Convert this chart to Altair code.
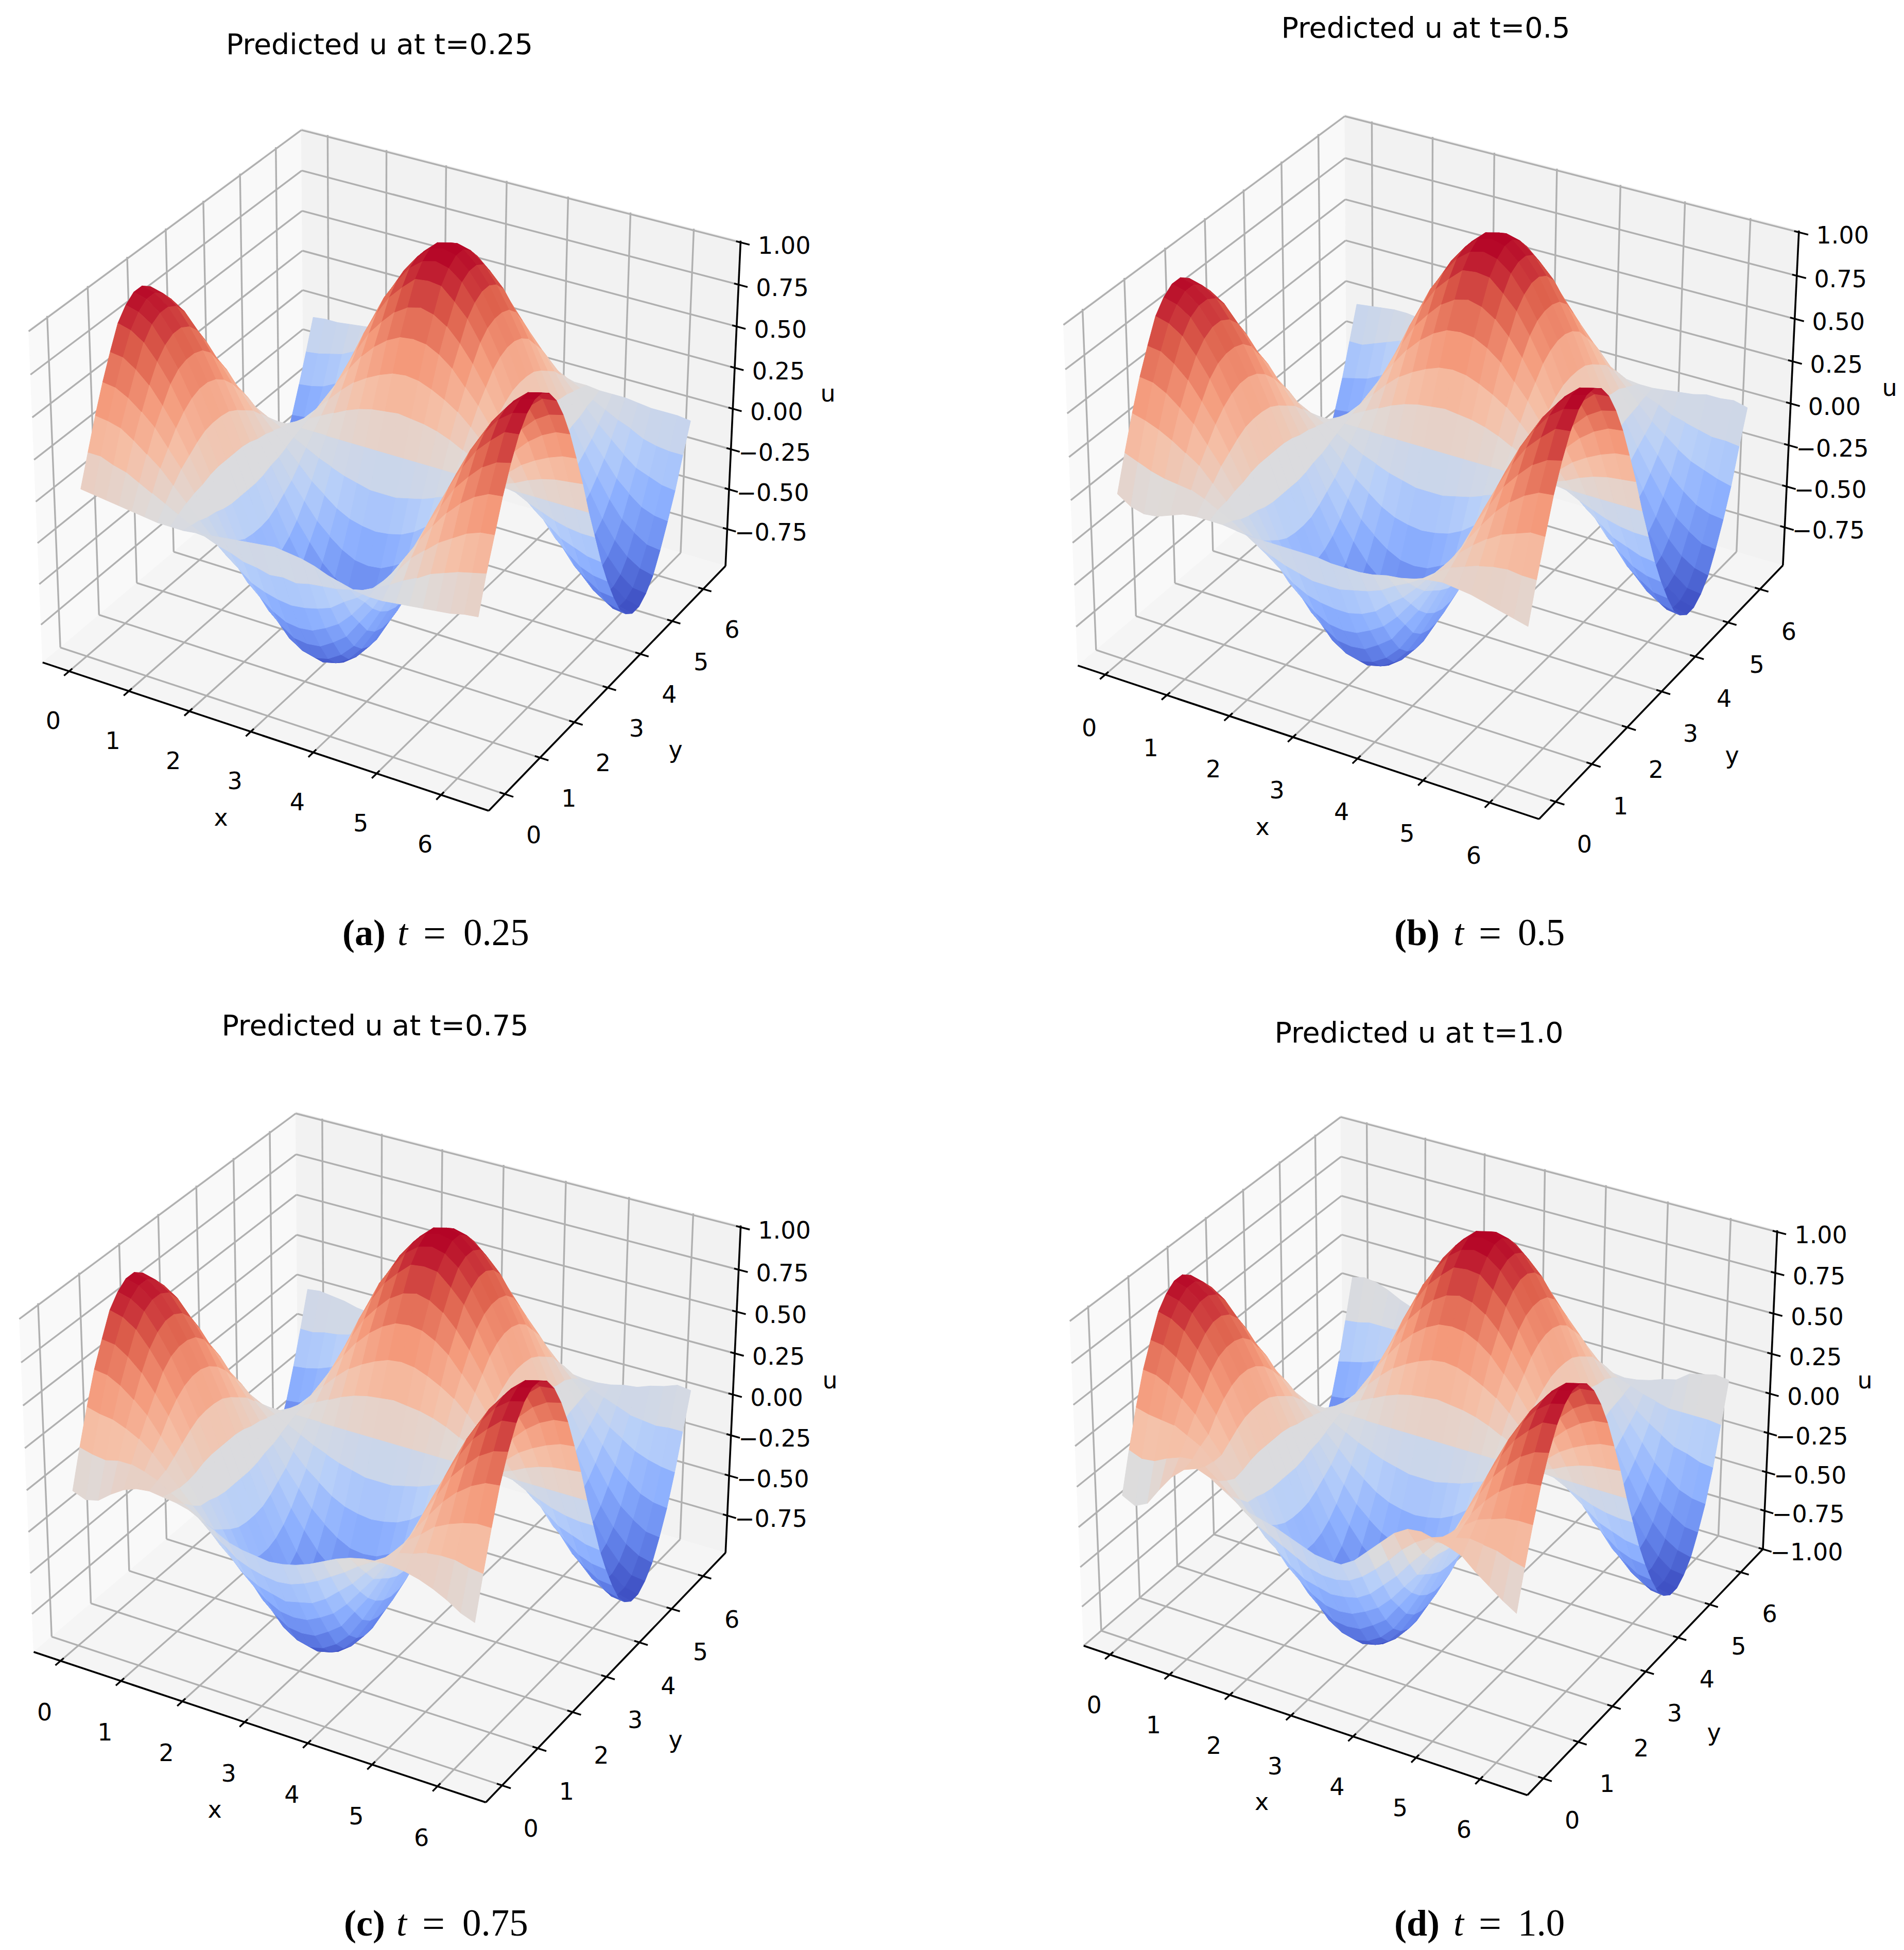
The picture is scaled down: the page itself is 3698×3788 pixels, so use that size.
import math
import numpy as np
import pandas as pd
import altair as alt

alt.data_transformers.disable_max_rows()

# ---------- values ----------
X_TICKS = [0, 1, 2, 3, 4, 5, 6]
Y_TICKS = [0, 1, 2, 3, 4, 5, 6]
Z_TICKS = [-0.75, -0.5, -0.25, 0.0, 0.25, 0.5, 0.75, 1.0]
Z_TICKS_D = [-1.0, -0.75, -0.5, -0.25, 0.0, 0.25, 0.5, 0.75, 1.0]
GRID_STEP = math.pi / 15  # u is read at 31 x 31 stations, in hundredths

# rows at stations y = 3..27, a shared estimate for the inner part of all panels
U_INNER = [
 [56,55,51,45,38,28,18,6,-6,-18,-28,-38,-45,-51,-55,-56,-55,-51,-46,-38,-28,-18,-6,6,18,29,39,47,53,57,58],
 [70,69,64,57,47,36,22,7,-7,-22,-36,-47,-57,-64,-69,-70,-69,-64,-58,-47,-36,-22,-7,7,23,36,49,58,66,71,73],
 [83,81,76,67,56,42,26,9,-9,-26,-42,-56,-67,-76,-81,-83,-81,-76,-68,-56,-42,-26,-9,9,27,43,57,69,77,84,85],
 [90,88,83,73,61,46,29,10,-10,-29,-46,-61,-73,-83,-88,-90,-88,-83,-74,-61,-46,-29,-10,10,29,47,63,75,85,91,93],
 [94,92,86,76,63,48,30,10,-10,-30,-48,-63,-76,-86,-92,-94,-92,-86,-77,-63,-48,-30,-10,10,31,49,65,78,88,95,97],
 [94,92,86,76,63,48,30,10,-10,-30,-48,-63,-76,-86,-92,-94,-92,-86,-77,-63,-48,-30,-10,10,31,49,65,78,88,95,97],
 [90,88,83,73,61,46,29,10,-10,-29,-46,-61,-73,-83,-88,-90,-88,-83,-74,-61,-46,-29,-10,10,29,47,63,75,85,91,93],
 [83,81,76,67,56,42,26,9,-9,-26,-42,-56,-67,-76,-81,-83,-81,-76,-68,-56,-42,-26,-9,9,27,43,57,69,77,84,85],
 [70,69,64,57,47,36,22,7,-7,-22,-36,-47,-57,-64,-69,-70,-69,-64,-58,-47,-36,-22,-7,7,23,36,49,58,66,71,73],
 [56,55,51,45,38,28,18,6,-6,-18,-28,-38,-45,-51,-55,-56,-55,-51,-46,-38,-28,-18,-6,6,18,29,39,47,53,57,58],
 [39,38,36,32,26,20,12,4,-4,-12,-20,-26,-32,-36,-38,-39,-38,-36,-32,-26,-20,-12,-4,4,13,20,27,32,36,39,40],
 [20,20,18,16,13,10,6,2,-2,-6,-10,-13,-16,-18,-20,-20,-20,-18,-16,-13,-10,-6,-2,2,7,10,14,17,19,20,21],
 [0,0,0,0,0,0,0,0,0,0,0,0,0,0,0,0,0,0,0,0,0,0,0,0,0,0,0,0,0,0,0],
 [-20,-20,-18,-16,-13,-10,-6,-2,2,6,10,14,17,19,20,21,20,19,17,14,10,6,2,-2,-6,-10,-13,-16,-18,-19,-19],
 [-39,-38,-36,-32,-26,-20,-12,-4,4,12,20,27,32,36,39,40,39,36,32,27,20,12,4,-4,-12,-19,-25,-31,-34,-37,-38],
 [-56,-55,-51,-45,-38,-28,-18,-6,6,18,29,39,47,53,57,58,57,53,47,38,29,18,6,-6,-17,-27,-37,-44,-50,-53,-54],
 [-70,-69,-64,-57,-47,-36,-22,-7,7,22,36,49,58,66,71,73,71,66,58,48,36,22,7,-7,-21,-34,-46,-56,-62,-67,-68],
 [-83,-81,-76,-67,-56,-42,-26,-9,9,26,43,57,69,77,84,85,84,77,69,57,43,26,9,-9,-25,-40,-54,-65,-73,-78,-80],
 [-90,-88,-83,-73,-61,-46,-29,-10,10,29,47,63,75,85,91,93,91,85,75,62,47,29,10,-10,-28,-44,-59,-71,-80,-86,-87],
 [-94,-92,-86,-76,-63,-48,-30,-10,10,30,49,65,78,88,95,97,95,88,78,64,49,30,10,-10,-29,-46,-61,-74,-83,-89,-91],
 [-94,-92,-86,-76,-63,-48,-30,-10,10,30,49,65,78,88,95,97,95,88,78,64,49,30,10,-10,-29,-46,-61,-74,-83,-89,-91],
 [-90,-88,-83,-73,-61,-46,-29,-10,10,29,47,63,75,85,91,93,91,85,75,62,47,29,10,-10,-28,-44,-59,-71,-80,-86,-87],
 [-83,-81,-76,-67,-56,-42,-26,-9,9,26,43,57,69,77,84,85,84,77,69,57,43,26,9,-9,-25,-40,-54,-65,-73,-78,-80],
 [-70,-69,-64,-57,-47,-36,-22,-7,7,22,36,49,58,66,71,73,71,66,58,48,36,22,7,-7,-21,-34,-46,-56,-62,-67,-68],
 [-56,-55,-51,-45,-38,-28,-18,-6,6,18,29,39,47,53,57,58,57,53,47,38,29,18,6,-6,-17,-27,-37,-44,-50,-53,-54],
]
U_LOW_A = [
 [4,3,2,1,0,-1,-2,-2,-2,-1,0,1,2,3,4,5,4,3,1,-2,-4,-6,-7,-7,-6,-5,-4,-3,-2,0,1],
 [22,22,19,17,13,9,5,1,-3,-7,-10,-12,-15,-16,-18,-17,-18,-16,-15,-14,-12,-10,-6,-2,3,7,12,15,18,20,22],
 [40,39,37,32,26,20,12,4,-4,-12,-20,-26,-32,-35,-37,-38,-37,-35,-32,-26,-21,-14,-6,2,12,19,26,31,36,39,40],
]
U_HIGH_A = [
 [-40,-39,-37,-33,-26,-20,-12,-4,4,12,20,27,32,36,39,40,39,36,32,27,20,12,4,-4,-12,-19,-26,-32,-35,-38,-39],
 [-23,-22,-20,-18,-14,-11,-7,-2,2,6,11,15,18,20,21,22,21,20,17,14,10,6,2,-3,-7,-11,-14,-18,-20,-21,-21],
 [-5,-4,-4,-3,-2,-1,-1,0,0,0,1,1,1,1,1,1,1,1,0,0,0,0,0,-1,-1,-1,-2,-3,-3,-3,-4],
]
U_LOW_B = [
 [0,-5,-7,-6,-3,0,1,1,1,0,-1,-1,-1,-1,-1,-1,-2,-2,-2,-1,1,2,4,6,7,6,5,3,1,-1,-3],
 [20,17,14,12,11,10,7,3,-1,-6,-11,-14,-17,-19,-21,-21,-21,-19,-17,-14,-9,-5,0,6,11,14,17,19,20,19,19],
 [39,37,34,30,25,20,12,4,-4,-12,-20,-26,-32,-36,-38,-39,-39,-37,-33,-26,-20,-12,-3,6,15,22,28,33,36,39,39],
]
U_HIGH_B = [
 [-40,-38,-36,-32,-26,-20,-12,-4,4,12,20,27,32,36,39,40,39,36,32,27,20,11,3,-5,-13,-19,-25,-30,-33,-36,-38],
 [-21,-21,-18,-15,-12,-10,-7,-3,1,5,9,14,18,20,21,22,21,20,17,13,9,5,0,-4,-7,-11,-13,-15,-17,-17,-18],
 [-2,-1,0,1,1,0,-1,-2,-2,-1,-1,0,1,1,1,1,1,1,0,-1,-1,-2,-3,-3,-2,-1,0,2,2,3,1],
]
U_LOW_C = [
 [-4,-7,-5,1,6,9,10,9,8,6,2,-2,-6,-8,-9,-10,-9,-7,-4,0,4,7,9,10,10,9,7,4,0,-5,-8],
 [18,16,15,17,17,15,12,7,3,-2,-9,-14,-20,-23,-25,-26,-25,-22,-18,-13,-8,-2,3,8,13,15,18,19,19,17,16],
 [38,36,35,32,28,22,14,6,-2,-10,-20,-27,-34,-38,-40,-42,-40,-38,-33,-26,-19,-10,-2,7,16,22,29,33,36,38,38],
]
U_HIGH_C = [
 [-38,-37,-35,-32,-26,-20,-12,-5,3,12,20,27,32,36,39,40,39,36,32,27,19,11,3,-5,-13,-20,-25,-30,-33,-35,-36],
 [-18,-18,-16,-15,-13,-11,-7,-4,0,5,9,13,17,20,21,22,21,20,17,13,8,4,-1,-5,-8,-11,-14,-15,-16,-15,-15],
 [3,4,3,2,0,-1,-2,-3,-3,-2,-1,-1,0,1,1,2,1,1,0,-1,-3,-4,-5,-5,-4,-2,-1,2,4,7,6],
]
U_LOW_D = [
 [-9,-13,-9,2,12,19,22,19,14,9,5,3,1,-2,-5,-8,-9,-9,-4,4,12,20,25,26,24,22,19,12,6,0,-5],
 [15,12,13,17,20,21,19,13,6,-1,-7,-11,-15,-19,-23,-25,-25,-23,-18,-11,-3,6,13,18,21,23,25,24,23,20,18],
 [37,35,34,33,29,25,18,9,0,-10,-19,-25,-32,-37,-39,-41,-40,-38,-33,-25,-17,-7,2,11,19,26,32,35,38,39,39],
]
U_HIGH_D = [
 [-37,-35,-33,-30,-25,-20,-13,-5,3,11,20,27,32,36,40,41,40,36,32,27,19,11,3,-5,-13,-19,-24,-29,-31,-34,-35],
 [-14,-13,-11,-11,-11,-9,-7,-4,0,4,9,13,17,20,21,23,21,20,17,13,8,4,-1,-4,-7,-9,-11,-11,-11,-11,-12],
 [10,12,11,8,4,1,-2,-4,-3,-3,-2,-1,0,1,2,3,2,1,0,-1,-3,-4,-5,-4,-2,1,3,9,11,13,12],
]
TITLES = ["Predicted u at t=0.25", "Predicted u at t=0.5", "Predicted u at t=0.75", "Predicted u at t=1.0"]
CAP_BOLD = ["(a)", "(b)", "(c)", "(d)"]
CAP_VALUE = ["0.25", "0.5", "0.75", "1.0"]

COOLWARM = ["#3b4cc0", "#6788ee", "#8db0fe", "#b7cff9", "#dddcdc", "#f5c0a7", "#f49a7b", "#dd5f4b", "#b40426"]
COOL_DOMAIN = [-0.92, -0.686, -0.453, -0.219, 0.015, 0.249, 0.482, 0.716, 0.95]

# ---------- layout (page pixels of the box corners, per panel) ----------
XLIM = (-0.45, 6.73)
YLIM = (-0.45, 6.73)
PANELS = [
 dict(zlim=(-0.985, 1.01), zt=Z_TICKS, low=U_LOW_A, high=U_HIGH_A, xdy=98, ydy=81,
      corners=[(84.6,1290.5),(948.6,1572.8),(1409.4,1102.6),(588.7,854),(54.2,638.6),(586.5,252),(1438.7,466.5)],
      title=(737,88), xl=(429,1590), yl=(1312,1458), ul=(1608,766),
      cap=(665,772,822,900,1836)),
 dict(zlim=(-0.985, 1.01), zt=Z_TICKS, low=U_LOW_B, high=U_HIGH_B, xdy=105, ydy=84,
      corners=[(2094.9,1296.5),(2989,1588.5),(3462.8,1102.6),(2615,844),(2063.7,626.4),(2613.3,225.4),(3494,445.9)],
      title=(2769,56), xl=(2452,1608), yl=(3364,1468.6), ul=(3670,755),
      cap=(2708,2823,2872,2948,1836)),
 dict(zlim=(-0.985, 1.01), zt=Z_TICKS, low=U_LOW_C, high=U_HIGH_C, xdy=102, ydy=86,
      corners=[(67.2,3212.5),(943.2,3499),(1409.4,3019.8),(578,2767.5),(35.8,2557.4),(575.7,2162.5),(1438.7,2379.2)],
      title=(728.5,1994), xl=(417,3517), yl=(1312,3381), ul=(1612,2683),
      cap=(668,770,820,898,3760)),
 dict(zlim=(-1.0, 1.01), zt=Z_TICKS_D, low=U_LOW_D, high=U_HIGH_D, xdy=100, ydy=83,
      corners=[(2106,3200.4),(2966.7,3484.6),(3423.8,3013.8),(2608,2760),(2076,2562.3),(2605.5,2169.7),(3451.7,2387.7)],
      title=(2756,2008), xl=(2450.5,3501.5), yl=(3329,3366.6), ul=(3622,2683),
      cap=(2708,2823,2872,2948,3760)),
]
CUBE = [(0,0,0),(1,0,0),(1,1,0),(0,1,0),(0,0,1),(0,1,1),(1,1,1)]
VIEW = np.array([math.cos(math.radians(30))*math.cos(math.radians(-60))*4,
                 math.cos(math.radians(30))*math.sin(math.radians(-60))*4,
                 math.sin(math.radians(30))*3])

def fit_projection(corners):
    A = []
    for (X, Y, Z), (u, v) in zip(CUBE, corners):
        A.append([X, Y, Z, 1, 0, 0, 0, 0, -u*X, -u*Y, -u*Z, -u])
        A.append([0, 0, 0, 0, X, Y, Z, 1, -v*X, -v*Y, -v*Z, -v])
    _, _, vt = np.linalg.svd(np.array(A, dtype=float))
    return vt[-1].reshape(3, 4)

polys, seg_grid, seg_axis, seg_tick, surf, tx_tick, tx_mid = [], [], [], [], [], [], []
tx_bold, tx_ital, tx_eq, tx_num = [], [], [], []
pid = 0
for ip, p in enumerate(PANELS):
    M = fit_projection(p["corners"])
    zlo, zhi = p["zlim"]
    def norm(x, y, z):
        return ((x-XLIM[0])/(XLIM[1]-XLIM[0]), (y-YLIM[0])/(YLIM[1]-YLIM[0]), (z-zlo)/(zhi-zlo))
    def proj(x, y, z):
        q = M @ np.array([*norm(x, y, z), 1.0])
        return float(q[0]/q[2]), float(q[1]/q[2])
    xa, xb = XLIM; ya, yb = YLIM
    # panes
    for col, c4 in (("#f9f9f9", [(xa,ya,zlo),(xa,yb,zlo),(xa,yb,zhi),(xa,ya,zhi)]),
                    ("#f2f2f2", [(xa,yb,zlo),(xb,yb,zlo),(xb,yb,zhi),(xa,yb,zhi)]),
                    ("#f5f5f5", [(xa,ya,zlo),(xb,ya,zlo),(xb,yb,zlo),(xa,yb,zlo)])):
        pid += 1
        for v, c in enumerate(c4):
            a, b = proj(*c)
            polys.append(dict(id=pid, v=v, px=a, py=b, col=col))
    def seg(store, a, b):
        (x0, y0), (x1, y1) = proj(*a), proj(*b)
        store.append(dict(px=x0, py=y0, px2=x1, py2=y1))
    # grid lines
    for t in X_TICKS:
        seg(seg_grid, (t,ya,zlo), (t,yb,zlo)); seg(seg_grid, (t,yb,zlo), (t,yb,zhi))
    for t in Y_TICKS:
        seg(seg_grid, (xa,t,zlo), (xb,t,zlo)); seg(seg_grid, (xa,t,zlo), (xa,t,zhi))
    for t in p["zt"]:
        seg(seg_grid, (xa,ya,t), (xa,yb,t)); seg(seg_grid, (xa,yb,t), (xb,yb,t))
    # axes lines
    seg(seg_axis, (xa,ya,zlo), (xb,ya,zlo))
    seg(seg_axis, (xb,ya,zlo), (xb,yb,zlo))
    seg(seg_axis, (xb,yb,zlo), (xb,yb,zhi))
    # ticks + labels
    for t in X_TICKS:
        seg(seg_tick, (t,ya-0.13,zlo), (t,ya+0.08,zlo))
        a, b = proj(t, ya, zlo)
        tx_tick.append(dict(px=a-31, py=b+p["xdy"], s=str(t)))
    for t in Y_TICKS:
        seg(seg_tick, (xb-0.08,t,zlo), (xb+0.13,t,zlo))
        a, b = proj(xb, t, zlo)
        tx_tick.append(dict(px=a+56, py=b+p["ydy"], s=str(t)))
    for t in p["zt"]:
        seg(seg_tick, (xb-0.07,yb,t), (xb+0.14,yb,t))
        a, b = proj(xb, yb, t)
        tx_tick.append(dict(px=a+85, py=b+8, s=f"{t:.2f}".replace("-", "\u2212")))
    for key, s in (("xl","x"),("yl","y"),("ul","u")):
        tx_mid.append(dict(px=p[key][0], py=p[key][1], s=s, fs=46))
    tx_mid.append(dict(px=p["title"][0], py=p["title"][1], s=TITLES[ip], fs=55.5))
    c = p["cap"]
    tx_bold.append(dict(px=c[0], py=c[4], s=CAP_BOLD[ip]))
    tx_ital.append(dict(px=c[1], py=c[4], s="t"))
    tx_eq.append(dict(px=c[2], py=c[4]+3, s="="))
    tx_num.append(dict(px=c[3], py=c[4], s=CAP_VALUE[ip]))
    # surface cells, far ones first
    table = p["low"] + U_INNER + p["high"]
    n = len(table) - 1
    cells = []
    for j in range(n):
        for k in range(n):
            quad = [(k,j),(k+1,j),(k+1,j+1),(k,j+1)]
            pts = [(a*GRID_STEP, b*GRID_STEP, table[b][a]/100) for a, b in quad]
            col = sum(q[2] for q in pts)/4
            cn = [norm(*q) for q in pts]
            depth = sum(float(np.dot(VIEW, m)) for m in cn)/4
            cells.append((depth, col, pts))
    cells.sort(key=lambda r: r[0])
    for depth, col, pts in cells:
        pid += 1
        for v, q in enumerate(pts):
            a, b = proj(*q)
            surf.append(dict(id=pid, v=v, px=round(a,1), py=round(b,1), c=round(col,3)))

X = alt.X("px:Q", scale=alt.Scale(domain=[8, 3690], nice=False, zero=False), axis=None)
Y = alt.Y("py:Q", scale=alt.Scale(domain=[3784, 8], nice=False, zero=False), axis=None)
X2 = alt.X2("px2:Q"); Y2 = alt.Y2("py2:Q")
cs = alt.Scale(domain=COOL_DOMAIN, range=COOLWARM, interpolate="rgb", clamp=True)
FONT = "DejaVu Sans"; SERIF = "Liberation Serif"

panes = alt.Chart(pd.DataFrame(polys)).mark_line(interpolate="linear-closed", strokeWidth=1).encode(
    x=X, y=Y, order="v:Q", detail="id:N",
    fill=alt.Fill("col:N", scale=None), stroke=alt.Stroke("col:N", scale=None))
grid = alt.Chart(pd.DataFrame(seg_grid)).mark_rule(color="#b0b0b0", strokeWidth=3.4).encode(x=X, y=Y, x2=X2, y2=Y2)
axes_ = alt.Chart(pd.DataFrame(seg_axis)).mark_rule(color="black", strokeWidth=3.6).encode(x=X, y=Y, x2=X2, y2=Y2)
ticks = alt.Chart(pd.DataFrame(seg_tick)).mark_rule(color="black", strokeWidth=3.4).encode(x=X, y=Y, x2=X2, y2=Y2)
surface = alt.Chart(pd.DataFrame(surf)).mark_line(interpolate="linear-closed", strokeWidth=1).encode(
    x=X, y=Y, order="v:Q", detail="id:N",
    fill=alt.Fill("c:Q", scale=cs, legend=None), stroke=alt.Stroke("c:Q", scale=cs, legend=None))
t1 = alt.Chart(pd.DataFrame(tx_tick)).mark_text(font=FONT, fontSize=46, align="center", baseline="middle", color="black").encode(x=X, y=Y, text="s:N")
t3 = alt.Chart(pd.DataFrame(tx_mid)).mark_text(font=FONT, align="center", baseline="middle", color="black").encode(
    x=X, y=Y, text="s:N", size=alt.Size("fs:Q", scale=None, legend=None))
t4 = alt.Chart(pd.DataFrame(tx_bold)).mark_text(font=SERIF, fontSize=72, fontWeight="bold", align="left", baseline="alphabetic", color="black").encode(x=X, y=Y, text="s:N")
t5 = alt.Chart(pd.DataFrame(tx_ital)).mark_text(font=SERIF, fontSize=72, fontStyle="italic", align="left", baseline="alphabetic", color="black").encode(x=X, y=Y, text="s:N")
t6 = alt.Chart(pd.DataFrame(tx_eq)).mark_text(font=SERIF, fontSize=78, align="left", baseline="alphabetic", color="black").encode(x=X, y=Y, text="s:N")
t7 = alt.Chart(pd.DataFrame(tx_num)).mark_text(font=SERIF, fontSize=73, align="left", baseline="alphabetic", color="black").encode(x=X, y=Y, text="s:N")

chart = alt.layer(panes, grid, axes_, ticks, surface, t1, t3, t4, t5, t6, t7).resolve_scale(
    fill="independent", stroke="independent", size="independent"
).properties(width=3682, height=3776, padding=0, autosize="none").configure_view(stroke=None)
chart.save("out.html", embed_options={"renderer": "svg", "actions": False})
